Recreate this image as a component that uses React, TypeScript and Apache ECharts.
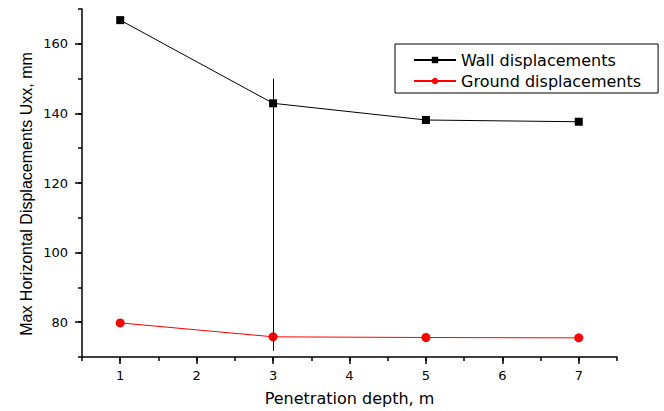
import React, { useEffect, useRef } from "react";
import * as echarts from "echarts";

const xValues = [1, 3, 5, 7];
const wallValues = [166.8, 142.9, 138.1, 137.6];
const groundValues = [79.8, 75.8, 75.6, 75.5];
const xTickLabels = [1, 2, 3, 4, 5, 6, 7];
const yTickLabels = [80, 100, 120, 140, 160];
const errorBarX = 3;
const errorBarLow = 71.8;
const errorBarHigh = 150;
const seriesNames = ["Wall displacements", "Ground displacements"];

const WIDE_FONT = "DejaVu Sans";
const AXIS_COLOR = "#000";

export default function App() {
  const ref = useRef<HTMLDivElement>(null);
  useEffect(() => {
    if (!ref.current) return;
    const chart = echarts.init(ref.current, undefined, { renderer: "svg" });
    const lineStyle = { color: AXIS_COLOR, width: 1.5 };
    chart.setOption({
      animation: false,
      backgroundColor: "#fff",
      grid: { left: 82, right: 47, top: 9, bottom: 54, containLabel: false },
      xAxis: [
        {
          type: "value",
          min: 0.5,
          max: 7.5,
          interval: 0.5,
          position: "bottom",
          axisLine: { show: true, onZero: false, lineStyle },
          axisTick: { show: true, length: 4, lineStyle },
          axisLabel: { show: false },
          splitLine: { show: false },
        },
        {
          type: "value",
          min: 0.5,
          max: 7.5,
          position: "bottom",
          axisLine: { show: false, onZero: false },
          axisTick: { show: true, length: 7, customValues: xTickLabels, lineStyle },
          axisLabel: {
            customValues: xTickLabels,
            margin: 12,
            fontFamily: WIDE_FONT,
            fontSize: 13,
            color: "#000",
          },
          splitLine: { show: false },
          name: "Penetration depth, m",
          nameLocation: "middle",
          nameGap: 33,
          nameTextStyle: { fontFamily: WIDE_FONT, fontSize: 16, color: "#000" },
        },
      ],
      yAxis: [
        {
          type: "value",
          min: 70,
          max: 170,
          interval: 10,
          position: "left",
          axisLine: { show: true, onZero: false, lineStyle },
          axisTick: { show: true, length: 4, lineStyle },
          axisLabel: { show: false },
          splitLine: { show: false },
        },
        {
          type: "value",
          min: 70,
          max: 170,
          position: "left",
          axisLine: { show: false, onZero: false },
          axisTick: { show: true, length: 7, customValues: yTickLabels, lineStyle },
          axisLabel: {
            customValues: yTickLabels,
            margin: 14,
            fontFamily: WIDE_FONT,
            fontSize: 13,
            color: "#000",
          },
          splitLine: { show: false },
        },
      ],
      legend: {
        data: seriesNames,
        orient: "vertical",
        left: 395,
        top: 44,
        padding: [8, 17, 4, 18],
        borderColor: "#000",
        borderWidth: 1,
        itemWidth: 42,
        itemHeight: 8,
        itemGap: 5,
        textStyle: { fontFamily: WIDE_FONT, fontSize: 16, color: "#000", lineHeight: 14 },
      },
      graphic: [
        {
          type: "text",
          x: 26,
          y: 194,
          rotation: Math.PI / 2,
          style: {
            text: "Max Horizontal Displacements Uxx, mm",
            fontFamily: "Liberation Sans, Arial, sans-serif",
            fontSize: 16,
            fill: "#000",
            align: "center",
            verticalAlign: "middle",
          },
        },
      ],
      series: [
        {
          type: "line",
          name: seriesNames[0],
          xAxisIndex: 0,
          yAxisIndex: 0,
          data: xValues.map((x, i) => [x, wallValues[i]]),
          symbol: "rect",
          symbolSize: 8,
          lineStyle: { color: "#000", width: 1 },
          itemStyle: { color: "#000" },
          markLine: {
            silent: true,
            symbol: ["none", "none"],
            label: { show: false },
            lineStyle: { color: "#000", width: 1, type: "solid" },
            data: [[{ coord: [errorBarX, errorBarHigh] }, { coord: [errorBarX, errorBarLow] }]],
          },
        },
        {
          type: "line",
          name: seriesNames[1],
          xAxisIndex: 0,
          yAxisIndex: 0,
          data: xValues.map((x, i) => [x, groundValues[i]]),
          symbol: "circle",
          symbolSize: 9,
          lineStyle: { color: "#ff0000", width: 1 },
          itemStyle: { color: "#ff0000" },
        },
      ],
    });
    return () => chart.dispose();
  }, []);
  return (
    <div
      ref={ref}
      style={{ position: "fixed", left: 0, top: 0, width: 664, height: 411, background: "#fff" }}
    />
  );
}
